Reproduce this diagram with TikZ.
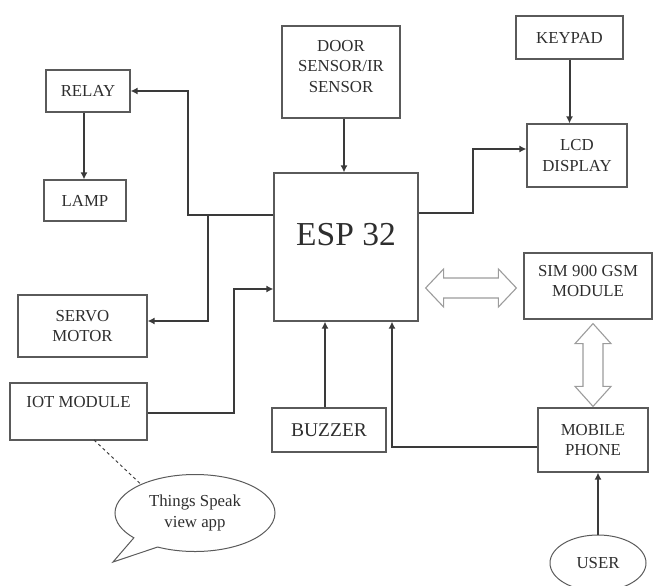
\documentclass[tikz,border=0pt]{standalone}
\usepackage{fontspec}
\setmainfont{Liberation Serif}
\usetikzlibrary{arrows.meta,calc,shapes.geometric,shapes.callouts}
\definecolor{rahmen}{HTML}{5A5A5A}
\definecolor{linie}{HTML}{3A3A3A}
\definecolor{hohl}{HTML}{9C9C9C}
\definecolor{schrift}{HTML}{2E2E2E}
\tikzset{
  blk/.style={draw=rahmen,line width=1.2pt,text=schrift,align=center,inner sep=2pt,
    font=\fontsize{16.8}{20.5}\selectfont},
  conn/.style={-{Latex[length=7pt,width=7pt]},linie,line width=2pt},
  hohlpfeil/.style={draw=hohl,line width=1.1pt,fill=white},
  hilf/.style={linie,dashed,line width=1pt},
}

\begin{document}
\begin{tikzpicture}[x=1pt,y=-1pt]
  \useasboundingbox (0,0) rectangle (653,586);
  % blocks
  \node[blk,minimum width=84pt,minimum height=42pt] (relay) at (88,91) {RELAY};
  \node[blk,minimum width=82pt,minimum height=41pt] (lamp) at (85,200.5) {LAMP};
  \node[blk,minimum width=118pt,minimum height=92pt,text depth=12pt] (door) at (341,72) {DOOR\\SENSOR/IR\\SENSOR};
  \node[blk,minimum width=107pt,minimum height=43pt] (keypad) at (569.5,37.5) {KEYPAD};
  \node[blk,minimum width=100pt,minimum height=63pt] (lcd) at (577,155.5) {LCD\\DISPLAY};
  \node[blk,minimum width=144pt,minimum height=148pt] (esp) at (346,247) {};
  \node[text=schrift,font=\fontsize{33.5}{40}\selectfont] (esptxt) at (346,235) {ESP 32};
  \node[blk,minimum width=129pt,minimum height=62pt] (servo) at (82.5,326) {SERVO\\MOTOR};
  \node[blk,minimum width=137pt,minimum height=57pt,text height=15pt,text depth=24pt] (iot) at (78.5,411.5) {IOT MODULE};
  \node[blk,minimum width=114pt,minimum height=44pt,font=\fontsize{19.5}{23}\selectfont] (buzzer) at (329,430) {BUZZER};
  \node[blk,minimum width=128pt,minimum height=66pt,text depth=10pt] (sim) at (588,286) {SIM 900 GSM\\MODULE};
  \node[blk,minimum width=110pt,minimum height=64pt] (mobile) at (593,440) {MOBILE\\PHONE};
  \node[blk,ellipse,line width=1pt,minimum width=96pt,minimum height=56pt] (user) at (598,563) {USER};
  \node[blk,ellipse callout,line width=1pt,minimum width=160pt,minimum height=77pt,
    callout absolute pointer={(113,562)},callout pointer arc=22] (bubble) at (195,513) {Things Speak\\view app};
  % connectors
  \coordinate (k1) at (188,215);
  \coordinate (k2) at (208,215);
  \draw[conn] (esp.west |- k1) -- (k1) |- (relay.east);
  \draw[conn] (k2) |- ($(servo.east)+(0,-5)$);
  \draw[conn] ($(relay.south)+(-4,0)$) -- ($(relay.south |- lamp.north)+(-4,0)$);
  \draw[conn] ($(door.south)+(3,0)$) -- ($(door.south |- esp.north)+(3,0)$);
  \draw[conn] (keypad.south) -- (keypad.south |- lcd.north);
  \coordinate (k3) at (473,213);
  \draw[conn] (esp.east |- k3) -- (k3) |- ($(lcd.west)+(0,-6.5)$);
  \coordinate (k4) at (234,289);
  \draw[conn] ($(iot.east)+(0,1.5)$) -| (k4) -- (esp.west |- k4);
  \draw[conn] ($(buzzer.north)+(-4,0)$) -- ($(buzzer.north |- esp.south)+(-4,0)$);
  \coordinate (k5) at (392,447);
  \draw[conn] (mobile.west |- k5) -- (k5) -- (k5 |- esp.south);
  \draw[conn] (user.north) -- (user.north |- mobile.south);
  \coordinate (k6) at (94,440);
  \draw[hilf] (k6) -- (bubble.152);
  % hollow double arrows
  \coordinate (g1) at ($(esp.east |- sim.west)+(7,2)$);
  \coordinate (g2) at ($(sim.west)+(-7,2)$);
  \draw[hohlpfeil] (g1) -- ++(18,-19) -- ++(0,9) -- ($(g2)+(-18,-10)$) -- ++(0,-9) -- (g2)
    -- ++(-18,19) -- ++(0,-9) -- ($(g1)+(18,10)$) -- ++(0,9) -- cycle;
  \coordinate (g3) at ($(sim.south)+(5,4)$);
  \coordinate (g4) at ($(mobile.north)+(0,-1)$);
  \draw[hohlpfeil] (g3) -- ++(18,20) -- ++(-8,0) -- ($(g4)+(10,-20)$) -- ++(8,0) -- (g4)
    -- ++(-18,-20) -- ++(8,0) -- ($(g3)+(-10,20)$) -- ++(-8,0) -- cycle;
\end{tikzpicture}
\end{document}
